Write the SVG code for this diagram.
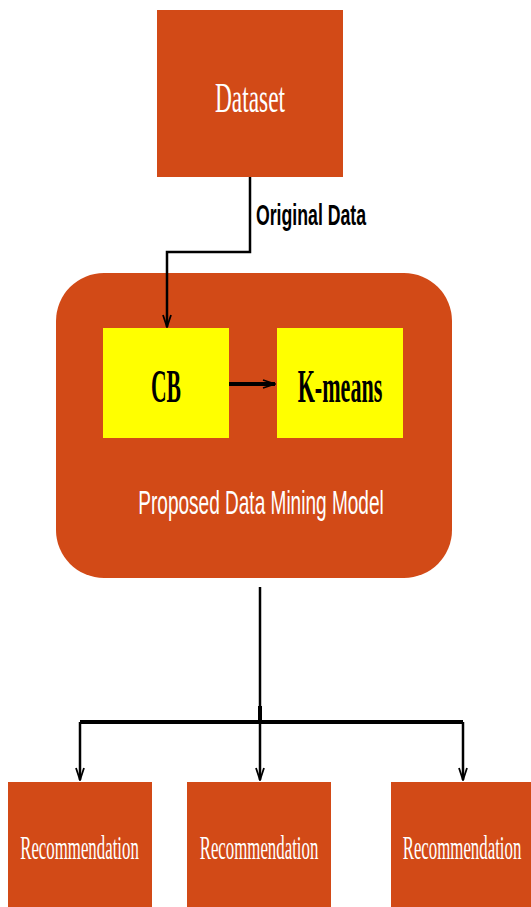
<svg xmlns="http://www.w3.org/2000/svg" width="531" height="907" viewBox="0 0 531 907">
<style>
.box{fill:#D24A17;}
.ybox{fill:#FFFF00;}
.wserif{font-family:"Liberation Serif",serif;fill:#FFFFFF;text-anchor:middle;}
.bserif{font-family:"Liberation Serif",serif;fill:#000000;text-anchor:middle;font-weight:bold;}
.sans{font-family:"Liberation Sans",sans-serif;text-anchor:middle;}
.conn{fill:none;stroke:#000;stroke-width:2.5;}
</style>
<defs>
<marker id="head" markerWidth="14" markerHeight="10" refX="13" refY="5" orient="auto" markerUnits="userSpaceOnUse" viewBox="0 0 14 10">
<path d="M1,1 L13,5 L1,9" fill="none" stroke="#000" stroke-width="1.8"/>
</marker>
</defs>
<rect width="531" height="907" fill="#FFFFFF"/>
<g id="dataset">
<rect class="box" x="157" y="10" width="186" height="167"/>
<text class="wserif" transform="translate(250,112) scale(0.556,1)" font-size="42">Dataset</text>
</g>
<g id="model">
<rect class="box" x="56" y="273" width="396" height="305" rx="48" ry="48"/>
<text class="sans" transform="translate(261,514) scale(0.56,1)" font-size="34" fill="#FFFFFF">Proposed Data Mining Model</text>
</g>
<g id="cb">
<rect class="ybox" x="103" y="328" width="126" height="110"/>
<text class="bserif" transform="translate(166,402) scale(0.47,1)" font-size="46">CB</text>
</g>
<g id="kmeans">
<rect class="ybox" x="277" y="328" width="126" height="110"/>
<text class="bserif" transform="translate(340,402) scale(0.48,1)" font-size="46">K-means</text>
</g>
<g id="rec1">
<rect class="box" x="8" y="782" width="144" height="130"/>
<text class="wserif" transform="translate(79.5,859) scale(0.51,1)" font-size="33">Recommendation</text>
</g>
<g id="rec2">
<rect class="box" x="187" y="782" width="144" height="130"/>
<text class="wserif" transform="translate(259,859) scale(0.51,1)" font-size="33">Recommendation</text>
</g>
<g id="rec3">
<rect class="box" x="391" y="782" width="145" height="130"/>
<text class="wserif" transform="translate(462,859) scale(0.51,1)" font-size="33">Recommendation</text>
</g>
<g id="connectors">
<path class="conn" d="M250,177 V252 H167 V327" marker-end="url(#head)"/>
<text class="sans" transform="translate(311,225) scale(0.59,1)" font-size="30" font-weight="bold" fill="#000">Original Data</text>
<path d="M229,384 H275" fill="none" stroke="#000" stroke-width="4" marker-end="url(#head)"/>
<path class="conn" d="M260,587 V722"/>
<path d="M260,706 V722" stroke="#000" stroke-width="4"/>
<path d="M80,722 H463" fill="none" stroke="#000" stroke-width="4"/>
<path class="conn" d="M80,722 V780" marker-end="url(#head)"/>
<path class="conn" d="M260,722 V780" marker-end="url(#head)"/>
<path class="conn" d="M463,722 V780" marker-end="url(#head)"/>
</g>
</svg>
